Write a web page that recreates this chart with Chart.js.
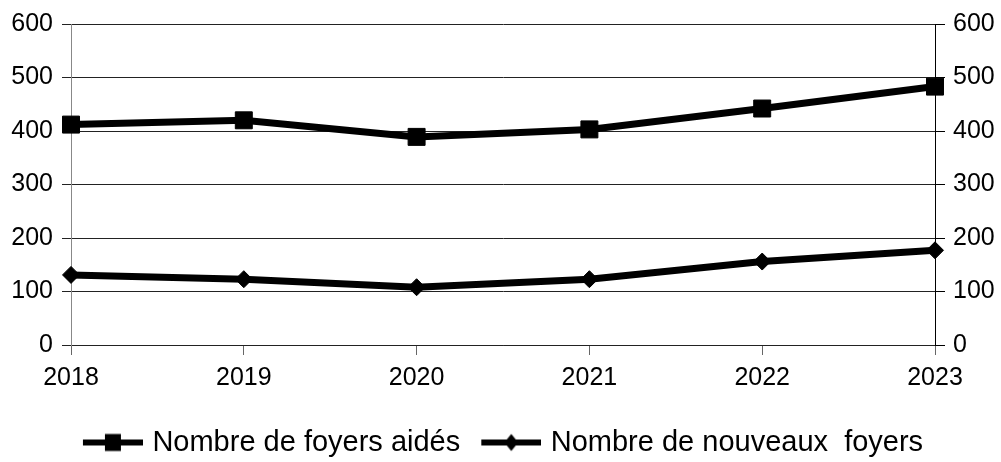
<!DOCTYPE html>
<html>
<head>
<meta charset="utf-8">
<script src="https://cdn.jsdelivr.net/npm/chart.js@4.4.0/dist/chart.umd.min.js"></script>
<style>
  html, body { margin: 0; padding: 0; background: #fff; }
</style>
</head>
<body>
<canvas id="myChart" width="1001" height="462"></canvas>
<script>
  // Données
  var annees = ['2018', '2019', '2020', '2021', '2022', '2023'];
  var foyersAides = [412, 420, 389, 403, 442, 483];
  var nouveauxFoyers = [131, 123, 108, 123, 156, 177];
  var graduations = [0, 100, 200, 300, 400, 500, 600];

  var police = 'Liberation Sans, Arial, sans-serif';

  // Icône de légende : trait + marqueur (70 px de large, trait visible sur les 60 de droite)
  function iconeLegende(forme) {
    var c = document.createElement('canvas');
    c.width = 70; c.height = 22;
    var g = c.getContext('2d');
    g.fillStyle = '#000';
    g.fillRect(10, 8, 60, 6);
    var cx = 40, cy = 11;
    if (forme === 'carre') {
      g.fillRect(cx - 8, cy - 8.5, 16, 17);
    } else {
      g.beginPath();
      g.moveTo(cx - 7, cy); g.lineTo(cx, cy - 8.5);
      g.lineTo(cx + 7, cy); g.lineTo(cx, cy + 8.5);
      g.closePath(); g.fill();
    }
    return c;
  }
  var iconeCarre = iconeLegende('carre');
  var iconeLosange = iconeLegende('losange');

  var data = {
    labels: annees,
    datasets: [{
      label: 'Nombre de foyers aidés',
      data: foyersAides,
      borderColor: '#000',
      backgroundColor: '#000',
      borderWidth: 7,
      pointStyle: 'rect',
      pointRadius: 12,
      pointBorderWidth: 1,
      tension: 0,
      yAxisID: 'y'
    }, {
      label: 'Nombre de nouveaux  foyers',
      data: nouveauxFoyers,
      borderColor: '#000',
      backgroundColor: '#000',
      borderWidth: 7,
      pointStyle: 'rectRot',
      pointRadius: 8.5,
      pointBorderWidth: 1,
      tension: 0,
      yAxisID: 'y1'
    }]
  };

  var axeY = {
    min: graduations[0],
    max: graduations[graduations.length - 1],
    afterBuildTicks: function (s) { s.ticks = graduations.map(function (v) { return { value: v }; }); },
    ticks: { color: '#000', font: { family: police, size: 25 }, padding: 9 },
  };

  var options = {
    responsive: false,
    animation: false,
    devicePixelRatio: 1,
    // la légende (hauteur 55) déborde un peu sous le bas du canvas, comme prévu
    layout: { padding: { top: 22, left: 0, right: 0, bottom: -5 } },
    scales: {
      x: {
        grid: { drawOnChartArea: false, tickLength: 10, color: '#666', lineWidth: 1 },
        border: { color: '#222', width: 1 },
        ticks: { color: '#000', font: { family: police, size: 25 }, padding: 8, maxRotation: 0 },
        afterFit: function (s) { s.height = 67; }
      },
      y: Object.assign({}, axeY, {
        position: 'left',
        grid: { color: '#222', lineWidth: 1, tickLength: 9 },
        border: { color: '#888', width: 1 },
        afterFit: function (s) { s.width = 71; }
      }),
      y1: Object.assign({}, axeY, {
        position: 'right',
        grid: { drawOnChartArea: false, color: '#000', tickLength: 10 },
        border: { color: '#000', width: 1 },
        ticks: { color: '#000', font: { family: police, size: 25 }, padding: 8 },
        afterFit: function (s) { s.width = 66; }
      })
    },
    plugins: {
      tooltip: { enabled: false },
      legend: {
        position: 'bottom',
        labels: {
          color: '#000',
          font: { family: police, size: 29 },
          usePointStyle: true,
          pointStyleWidth: 60,
          padding: 16,
          generateLabels: function (chart) {
            var items = Chart.defaults.plugins.legend.labels.generateLabels(chart);
            items[0].pointStyle = iconeCarre;
            items[1].pointStyle = iconeLosange;
            return items;
          }
        }
      }
    }
  };

  var ctx = document.getElementById('myChart').getContext('2d');
  var myChart = new Chart(ctx, { type: 'line', data: data, options: options });
</script>
</body>
</html>
